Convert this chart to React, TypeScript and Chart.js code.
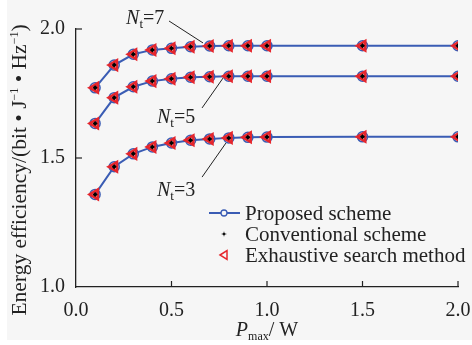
import React, { useEffect, useRef } from "react";
import { Chart, registerables } from "chart.js";

Chart.register(...registerables);

// ---- data ----
const P_MAX = [0.1, 0.2, 0.3, 0.4, 0.5, 0.6, 0.7, 0.8, 0.9, 1.0, 1.5, 2.0];
const EE_NT7 = [1.772, 1.86, 1.902, 1.919, 1.925, 1.931, 1.934, 1.935, 1.935, 1.935, 1.935, 1.935];
const EE_NT5 = [1.634, 1.734, 1.776, 1.798, 1.807, 1.813, 1.815, 1.817, 1.817, 1.817, 1.817, 1.817];
const EE_NT3 = [1.359, 1.466, 1.516, 1.543, 1.558, 1.569, 1.574, 1.578, 1.58, 1.581, 1.582, 1.582];
const SERIES_LABELS = ["Proposed scheme", "Conventional scheme", "Exhaustive search method"];
const NT_LABELS = ["7", "5", "3"];
const X_TICKS = [0, 0.5, 1.0, 1.5, 2.0];
const Y_TICKS = [1.0, 1.5, 2.0];

const BLUE = "#3a5cb4";
const RED = "#e6262c";
const SERIF = '"Liberation Serif", "Times New Roman", serif';

// annotation anchors in data coordinates
const ANNOTATIONS = [
  { nt: NT_LABELS[0], text: [0.262, 2.019], line: [[0.487, 2.031], [0.665, 1.946]] },
  { nt: NT_LABELS[1], text: [0.424, 1.636], line: [[0.66, 1.694], [0.77, 1.81]] },
  { nt: NT_LABELS[2], text: [0.424, 1.353], line: [[0.66, 1.426], [0.785, 1.558]] },
];

function pts(ys: number[]) {
  return P_MAX.map((x, i) => ({ x, y: ys[i] }));
}

function makeSets(ys: number[]) {
  return [
    {
      label: SERIES_LABELS[0],
      data: pts(ys),
      borderColor: BLUE,
      backgroundColor: "rgba(0,0,0,0)",
      borderWidth: 2,
      pointStyle: "circle",
      pointRadius: 5,
      pointBorderWidth: 1.5,
      pointBorderColor: BLUE,
      pointBackgroundColor: "rgba(0,0,0,0)",
      order: 2,
      showLine: true,
    },
    {
      label: SERIES_LABELS[2],
      data: pts(ys),
      showLine: false,
      pointStyle: "triangle",
      rotation: -90,
      pointRadius: 5.5,
      pointBorderWidth: 2.6,
      pointBorderColor: RED,
      pointBackgroundColor: "rgba(230,38,44,0.25)",
      borderColor: RED,
      order: 1,
    },
    {
      label: SERIES_LABELS[1],
      data: pts(ys),
      showLine: false,
      pointStyle: "rectRot",
      pointRadius: 2.5,
      pointBorderWidth: 0,
      pointBackgroundColor: "#000",
      borderColor: "#000",
      order: 0,
    },
  ];
}

function drawRich(ctx: CanvasRenderingContext2D, parts: any[], x: number, y: number, align: "left" | "center") {
  const widths = parts.map((p) => {
    ctx.font = p.font;
    return ctx.measureText(p.t).width;
  });
  const total = widths.reduce((a, b) => a + b, 0);
  let cx = align === "center" ? x - total / 2 : x;
  parts.forEach((p, i) => {
    ctx.font = p.font;
    ctx.fillText(p.t, cx, y + (p.dy || 0));
    cx += widths[i];
  });
}

const decor = {
  id: "decor",
  beforeDraw(chart: any) {
    const ctx = chart.ctx;
    ctx.save();
    ctx.fillStyle = "#ffffff";
    ctx.fillRect(0, 0, chart.width, chart.height);
    ctx.fillStyle = "#f6f6f6";
    ctx.fillRect(7, 0, chart.width - 7, chart.height - 5);
    ctx.restore();
  },
  afterDraw(chart: any) {
    const ctx: CanvasRenderingContext2D = chart.ctx;
    const xs = chart.scales.x;
    const ys = chart.scales.y;
    const area = chart.chartArea;
    ctx.save();
    // inward ticks
    ctx.strokeStyle = "#222";
    ctx.lineWidth = 1.2;
    X_TICKS.forEach((v) => {
      if (v === 0) return;
      const px = xs.getPixelForValue(v);
      ctx.beginPath();
      ctx.moveTo(px, area.bottom);
      ctx.lineTo(px, area.bottom - 6);
      ctx.stroke();
    });
    Y_TICKS.forEach((v) => {
      if (v === 1.0) return;
      const py = ys.getPixelForValue(v);
      ctx.beginPath();
      ctx.moveTo(area.left, py);
      ctx.lineTo(area.left + 6, py);
      ctx.stroke();
    });

    // annotations
    ctx.fillStyle = "#222";
    ctx.textBaseline = "alphabetic";
    ctx.textAlign = "left";
    ANNOTATIONS.forEach((a) => {
      const tx = xs.getPixelForValue(a.text[0]);
      const ty = ys.getPixelForValue(a.text[1]);
      drawRich(
        ctx,
        [
          { t: "N", font: `italic 20px ${SERIF}` },
          { t: "t", font: `13px ${SERIF}`, dy: 4 },
          { t: "=" + a.nt, font: `20px ${SERIF}` },
        ],
        tx,
        ty,
        "left"
      );
      ctx.beginPath();
      ctx.lineWidth = 1;
      ctx.strokeStyle = "#222";
      ctx.moveTo(xs.getPixelForValue(a.line[0][0]), ys.getPixelForValue(a.line[0][1]));
      ctx.lineTo(xs.getPixelForValue(a.line[1][0]), ys.getPixelForValue(a.line[1][1]));
      ctx.stroke();
    });

    // legend
    const lx = 224;
    const rows = [213, 234, 255];
    ctx.textBaseline = "middle";
    ctx.font = `21px ${SERIF}`;
    ctx.fillStyle = "#222";
    // proposed
    ctx.strokeStyle = BLUE;
    ctx.lineWidth = 2;
    ctx.beginPath();
    ctx.moveTo(lx - 15, rows[0]);
    ctx.lineTo(lx + 16, rows[0]);
    ctx.stroke();
    ctx.lineWidth = 1.3;
    ctx.fillStyle = "#f6f6f6";
    ctx.beginPath();
    ctx.arc(lx, rows[0], 3, 0, Math.PI * 2);
    ctx.fill();
    ctx.stroke();
    // conventional
    ctx.fillStyle = "#000";
    ctx.beginPath();
    const r = 3.2;
    ctx.moveTo(lx, rows[1] - r);
    ctx.quadraticCurveTo(lx, rows[1], lx + r, rows[1]);
    ctx.quadraticCurveTo(lx, rows[1], lx, rows[1] + r);
    ctx.quadraticCurveTo(lx, rows[1], lx - r, rows[1]);
    ctx.quadraticCurveTo(lx, rows[1], lx, rows[1] - r);
    ctx.fill();
    // exhaustive
    ctx.strokeStyle = RED;
    ctx.lineWidth = 1.5;
    ctx.beginPath();
    ctx.moveTo(lx - 4, rows[2]);
    ctx.lineTo(lx + 3, rows[2] - 4.5);
    ctx.lineTo(lx + 3, rows[2] + 4.5);
    ctx.closePath();
    ctx.stroke();
    ctx.fillStyle = "#222";
    ctx.font = `21px ${SERIF}`;
    SERIES_LABELS.forEach((s, i) => ctx.fillText(s, 245, rows[i] + 1));

    // x title
    ctx.textBaseline = "alphabetic";
    drawRich(
      ctx,
      [
        { t: "P", font: `italic 20px ${SERIF}` },
        { t: "max", font: `12px ${SERIF}`, dy: 4 },
        { t: "/ W", font: `20px ${SERIF}` },
      ],
      (area.left + area.right) / 2,
      336,
      "center"
    );

    // y title
    ctx.save();
    ctx.translate(26, 170);
    ctx.rotate(-Math.PI / 2);
    drawRich(
      ctx,
      [
        { t: "Energy efficiency/(bit • J", font: `21.5px ${SERIF}` },
        { t: "−1", font: `12px ${SERIF}`, dy: -8 },
        { t: " • Hz", font: `21.5px ${SERIF}` },
        { t: "−1", font: `12px ${SERIF}`, dy: -8 },
        { t: ")", font: `21.5px ${SERIF}` },
      ],
      0,
      0,
      "center"
    );
    ctx.restore();
    ctx.restore();
  },
};

export default function App() {
  const ref = useRef<HTMLCanvasElement>(null);
  useEffect(() => {
    if (!ref.current) return;
    const chart = new Chart(ref.current, {
      type: "line",
      data: {
        datasets: [...makeSets(EE_NT7), ...makeSets(EE_NT5), ...makeSets(EE_NT3)] as any,
      },
      options: {
        animation: false,
        responsive: false,
        layout: { padding: { top: 29, right: 14, left: 0, bottom: 0 } },
        plugins: { legend: { display: false }, tooltip: { enabled: false } },
        scales: {
          x: {
            type: "linear",
            min: 0,
            max: 2,
            afterFit: (s: any) => {
              s.height = 58;
              s.paddingLeft = 0;
              s.paddingRight = 0;
            },
            afterBuildTicks: (s: any) => {
              s.ticks = X_TICKS.map((v) => ({ value: v }));
            },
            ticks: {
              padding: 12,
              color: "#222",
              font: { family: SERIF, size: 20 },
              callback: (v: any) => Number(v).toFixed(1),
              maxRotation: 0,
            },
            grid: { display: true, drawOnChartArea: false, drawTicks: false },
            border: { display: true, color: "#222", width: 1.3 },
          },
          y: {
            type: "linear",
            min: 1,
            max: 2,
            afterFit: (s: any) => {
              s.width = 76;
              s.paddingTop = 0;
              s.paddingBottom = 0;
            },
            afterBuildTicks: (s: any) => {
              s.ticks = Y_TICKS.map((v) => ({ value: v }));
            },
            ticks: {
              padding: 11,
              color: "#222",
              font: { family: SERIF, size: 20 },
              callback: (v: any) => Number(v).toFixed(1),
            },
            grid: { display: true, drawOnChartArea: false, drawTicks: false },
            border: { display: true, color: "#222", width: 1.3 },
          },
        },
      },
      plugins: [decor],
    });
    return () => chart.destroy();
  }, []);
  return (
    <div style={{ position: "fixed", left: 0, top: 0, width: 472, height: 345 }}>
      <canvas ref={ref} width={472} height={345} />
    </div>
  );
}
